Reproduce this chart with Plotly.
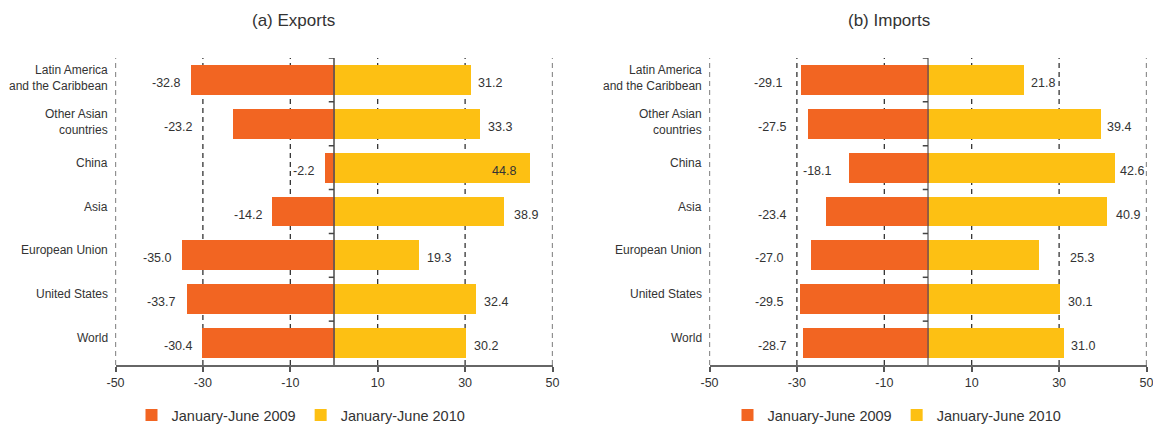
import plotly.graph_objects as go

# Regions, bottom to top
regions = ["World", "United States", "European Union", "Asia", "China",
           "Other Asian<br>countries", "Latin America<br>and the Caribbean"]

# Year-on-year change (%), January-June
exports_2009 = [-30.4, -33.7, -35.0, -14.2, -2.2, -23.2, -32.8]
exports_2010 = [30.2, 32.4, 19.3, 38.9, 44.8, 33.3, 31.2]
imports_2009 = [-28.7, -29.5, -27.0, -23.4, -18.1, -27.5, -29.1]
imports_2010 = [31.0, 30.1, 25.3, 40.9, 42.6, 39.4, 21.8]

series_names = ["January-June 2009", "January-June 2010"]
panel_titles = ["(a) Exports", "(b) Imports"]
tick_values = [-50, -30, -10, 10, 30, 50]

ORANGE = "#F26522"
YELLOW = "#FDC013"
TEXT = "#333333"
FONT = "Liberation Sans, Arial, sans-serif"

W, H = 1153, 425
# panel geometry (pixels) and value-label gaps from the bar ends (pixels);
# a negative positive-side gap puts the label inside the bar end
panels = [
    dict(x0=115.5, x1=552.5, title_x=293, legend_x=301,
         neg_gap=[6, 9, 7, 7, 7, 38, 8], pos_gap=[6, 6, 7, 8, -12, 6, 6]),
    dict(x0=709.5, x1=1146.5, title_x=889, legend_x=897,
         neg_gap=[14, 13, 24, 37, 15, 19, 16], pos_gap=[6, 6, 29, 7, 4, 5, 6]),
]
plot_top, plot_bottom = 58, 365
ydom = [(H - plot_bottom) / H, (H - plot_top) / H]

fig = go.Figure()
shapes, annotations = [], []

data = [(exports_2009, exports_2010), (imports_2009, imports_2010)]

for p, (panel, (neg, pos)) in enumerate(zip(panels, data)):
    xa = "x" if p == 0 else "x2"
    ya = "y" if p == 0 else "y2"
    legend = "legend" if p == 0 else "legend2"
    for vals, name, color in [(neg, series_names[0], ORANGE), (pos, series_names[1], YELLOW)]:
        fig.add_trace(go.Bar(
            x=vals, y=list(range(len(regions))), orientation="h",
            name=name, marker=dict(color=color, line=dict(width=0)),
            width=0.68, xaxis=xa, yaxis=ya, legend=legend,
            hoverinfo="x",
        ))

    # dashed vertical gridlines
    for tv in tick_values:
        shapes.append(dict(type="line", xref=xa, yref=ya, x0=tv, x1=tv,
                           y0=-0.5, y1=len(regions) - 0.5, layer="below",
                           line=dict(color="#222222", width=1.2, dash="5px,4px")))
    # zero line with category separator ticks
    shapes.append(dict(type="line", xref=xa, yref=ya, x0=0, x1=0,
                       y0=-0.5, y1=len(regions) - 0.5, layer="above",
                       line=dict(color="#555555", width=1.6 if p == 0 else 1.2)))
    for k in range(len(regions)):
        shapes.append(dict(type="line", xref=xa, yref=ya, x0=-1.2, x1=0,
                           y0=k + 0.5, y1=k + 0.5, layer="above",
                           line=dict(color="#444444", width=1.5)))

    # category labels
    for i, r in enumerate(regions):
        annotations.append(dict(xref=xa, yref=ya, x=-50, y=i, text=r,
                                xanchor="right", yanchor="middle", xshift=-6,
                                yshift=5 if "<br>" not in r else 2,
                                showarrow=False, align="right",
                                font=dict(size=12, color=TEXT, family=FONT)))
    # value labels
    for i, v in enumerate(neg):
        annotations.append(dict(xref=xa, yref=ya, x=v, y=i, text=f"{v:.1f}",
                                xanchor="right", yanchor="middle",
                                xshift=-panel["neg_gap"][i], yshift=-3, showarrow=False,
                                font=dict(size=12.5, color=TEXT, family=FONT)))
    for i, v in enumerate(pos):
        gap = panel["pos_gap"][i]
        annotations.append(dict(xref=xa, yref=ya, x=v, y=i, text=f"{v:.1f}",
                                xanchor="left" if gap >= 0 else "right",
                                yanchor="middle", xshift=gap, yshift=-3,
                                showarrow=False,
                                font=dict(size=12.5, color=TEXT, family=FONT)))
    # panel title
    annotations.append(dict(xref="paper", yref="paper", x=panel["title_x"] / W,
                            y=(H - 20) / H, text=panel_titles[p], showarrow=False,
                            xanchor="center", yanchor="middle",
                            font=dict(size=17, color=TEXT, family=FONT)))

axis_common = dict(
    range=[-50, 50], tickvals=tick_values, ticktext=[str(t) for t in tick_values],
    showgrid=False, zeroline=False, showline=True, linecolor="#666666",
    linewidth=2, ticks="outside", ticklen=5, tickwidth=1.5, tickcolor="#555555",
    tickfont=dict(size=12.5, color=TEXT, family=FONT), fixedrange=True,
    automargin=False, ticklabeloverflow="allow",
)
yaxis_common = dict(range=[-0.5, len(regions) - 0.5], showticklabels=False,
                    showgrid=False, zeroline=False, showline=False, ticks="",
                    domain=ydom, fixedrange=True, automargin=False)

legend_common = dict(orientation="h", xanchor="center", yanchor="middle",
                     y=(H - 415) / H, font=dict(size=14.5, color=TEXT, family=FONT),
                     bgcolor="rgba(0,0,0,0)", itemclick=False, itemdoubleclick=False,
                     tracegroupgap=0)

fig.update_layout(
    width=W, height=H,
    margin=dict(l=0, r=0, t=0, b=0, autoexpand=False),
    paper_bgcolor="white", plot_bgcolor="white",
    barmode="overlay", bargap=0,
    font=dict(family=FONT, color=TEXT),
    xaxis=dict(domain=[panels[0]["x0"] / W, panels[0]["x1"] / W], anchor="y", **axis_common),
    xaxis2=dict(domain=[panels[1]["x0"] / W, panels[1]["x1"] / W], anchor="y2", **axis_common),
    yaxis=dict(anchor="x", **yaxis_common),
    yaxis2=dict(anchor="x2", **yaxis_common),
    legend=dict(x=panels[0]["legend_x"] / W, **legend_common),
    legend2=dict(x=panels[1]["legend_x"] / W, **legend_common),
    shapes=shapes,
    annotations=annotations,
    showlegend=True,
)

fig.write_html("out.html")
